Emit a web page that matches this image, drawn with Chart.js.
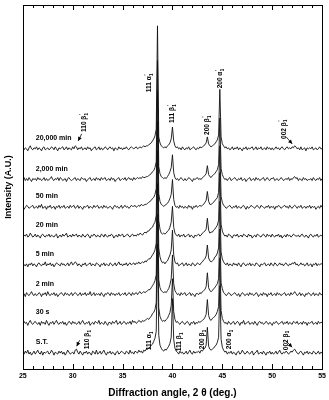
<!DOCTYPE html>
<html>
<head>
<meta charset="utf-8">
<script src="https://cdn.jsdelivr.net/npm/chart.js@4.4.1/dist/chart.umd.min.js"></script>
<style>
  html, body { margin: 0; padding: 0; background: #fff; }
</style>
</head>
<body>
<canvas id="xrdChart" width="329" height="400"></canvas>
<script>
// 2 theta sampling (deg.)
const angles = [
  25,25.125,25.25,25.375,25.5,25.625,25.75,25.875,26,26.125,
  26.25,26.375,26.5,26.625,26.75,26.875,27,27.125,27.25,27.375,
  27.5,27.625,27.75,27.875,28,28.125,28.25,28.375,28.5,28.625,
  28.75,28.875,29,29.125,29.25,29.375,29.5,29.625,29.75,29.875,
  30,30.125,30.25,30.375,30.5,30.625,30.75,30.875,31,31.125,
  31.25,31.375,31.5,31.625,31.75,31.875,32,32.125,32.25,32.375,
  32.5,32.625,32.75,32.875,33,33.125,33.25,33.375,33.5,33.625,
  33.75,33.875,34,34.125,34.25,34.375,34.5,34.625,34.75,34.875,
  35,35.125,35.25,35.375,35.5,35.625,35.75,35.875,36,36.125,
  36.25,36.375,36.5,36.625,36.75,36.875,37,37.125,37.25,37.375,
  37.5,37.625,37.75,37.875,38,38.125,38.25,38.375,38.5,38.625,
  38.75,38.875,39,39.125,39.25,39.375,39.5,39.625,39.75,39.875,
  40,40.125,40.25,40.375,40.5,40.625,40.75,40.875,41,41.125,
  41.25,41.375,41.5,41.625,41.75,41.875,42,42.125,42.25,42.375,
  42.5,42.625,42.75,42.875,43,43.125,43.25,43.375,43.5,43.625,
  43.75,43.875,44,44.125,44.25,44.375,44.5,44.625,44.75,44.875,
  45,45.125,45.25,45.375,45.5,45.625,45.75,45.875,46,46.125,
  46.25,46.375,46.5,46.625,46.75,46.875,47,47.125,47.25,47.375,
  47.5,47.625,47.75,47.875,48,48.125,48.25,48.375,48.5,48.625,
  48.75,48.875,49,49.125,49.25,49.375,49.5,49.625,49.75,49.875,
  50,50.125,50.25,50.375,50.5,50.625,50.75,50.875,51,51.125,
  51.25,51.375,51.5,51.625,51.75,51.875,52,52.125,52.25,52.375,
  52.5,52.625,52.75,52.875,53,53.125,53.25,53.375,53.5,53.625,
  53.75,53.875,54,54.125,54.25,54.375,54.5,54.625,54.75,54.875,
  55
];

// ageing times, bottom to top
const sampleLabels = ["S.T.", "30 s", "2 min", "5 min", "20 min", "50 min", "2,000 min", "20,000 min"];
// vertical shift of each pattern (A.U.)
const offsets = [16, 46, 75, 105, 134, 163, 191, 222];

const intST = [
  1,-1,2,0,3,-1,1,-2,0,2,  -1,1,3,0,-1,2,-2,1,0,1,  2,-1,0,3,1,-2,1,0,-1,2,
  0,2,-1,1,-2,0,3,1,-1,0,  1,-1,3,4,1,-1,2,0,-2,1,  0,2,-1,1,0,-2,2,1,-1,3,
  -1,0,2,-1,1,3,0,-2,1,0,  2,-1,1,0,-2,1,2,-1,0,2,  1,0,-1,2,1,-1,3,0,1,-1,
  2,1,0,3,1,2,0,3,2,4,  4,5,6,8,9,12,15,22,110,18,  8,5,3,2,4,3,5,7,10,16,
  55,14,5,2,1,-1,2,0,1,-1,  0,2,-1,1,3,0,-1,2,0,1,  1,2,0,3,2,4,5,8,26,7,
  4,3,4,5,7,8,11,16,68,14,  6,3,1,2,-1,1,0,2,-1,1,  0,-2,1,2,-1,0,3,1,-1,0,
  2,0,-1,1,2,-2,0,1,3,-1,  0,1,-1,2,0,-2,1,0,2,-1,  1,-1,0,2,-1,1,3,0,-1,1,
  0,2,1,-1,0,2,1,3,4,2,  0,-1,1,2,0,-2,1,0,2,-1,  1,0,-1,2,1,-1,0,2,-1,1,  0
];
const int30s = [
  -1,2,0,1,-2,1,3,0,-1,1,  2,0,-1,1,-2,2,0,1,-1,3,  0,-2,1,0,2,-1,1,3,0,-1,
  1,0,2,-1,1,-2,0,2,1,-1,  2,0,1,-1,0,2,-1,1,3,0,  -1,1,0,2,-2,0,1,-1,2,1,
  0,3,-1,1,0,-1,2,0,-2,1,  1,-1,2,0,1,3,-1,0,2,-1,  0,2,1,-1,1,0,2,-1,3,1,
  2,0,1,3,2,1,3,2,3,4,  5,4,6,7,10,11,14,21,110,16,  7,4,2,3,2,4,5,8,11,18,
  45,12,4,1,2,0,-1,1,2,0,  -1,1,2,0,-2,1,0,2,-1,1,  0,2,1,2,3,4,6,9,24,8,
  4,3,5,6,7,9,12,17,66,13,  5,2,0,1,-1,2,0,-1,1,2,  -1,0,2,1,-2,1,0,3,-1,0,
  1,2,-1,0,1,-1,2,0,-2,1,  2,0,1,-1,0,2,1,-1,1,0,  -2,1,0,2,1,-1,0,1,2,-1,
  1,0,2,-1,1,0,-1,2,1,0,  2,-1,0,1,-1,2,0,1,-2,1,  0,1,2,-1,0,1,-1,2,0,1,  1
];
const int2min = [
  0,1,-2,2,0,-1,1,3,0,-1,  1,-1,0,2,1,-2,1,0,2,-1,  3,0,-1,1,0,2,-1,1,-2,0,
  1,2,0,-1,2,0,1,-1,0,2,  -1,1,2,1,-1,0,2,-1,1,0,  2,-1,1,0,3,-1,0,2,-1,1,
  0,1,-1,2,0,-2,1,0,2,1,  -1,2,0,1,-1,1,0,2,-1,0,  1,0,2,-1,0,2,1,-1,2,0,
  1,2,0,2,3,1,2,3,2,3,  4,5,5,7,9,11,14,20,112,15,  7,4,3,2,3,2,4,6,10,16,
  40,11,4,2,0,1,-1,2,0,1,  2,-1,0,1,2,-1,1,0,-2,1,  1,0,2,1,3,4,5,8,22,7,
  4,3,4,6,7,9,11,16,66,12,  6,2,1,-1,0,2,1,-1,0,1,  2,0,-1,1,-2,0,2,1,-1,0,
  1,-1,2,0,1,-1,0,2,1,-2,  0,1,-1,2,0,1,-2,1,0,2,  -1,0,1,-1,2,0,1,-1,0,1,
  2,-1,0,1,-1,2,0,1,3,1,  -1,0,2,-1,1,0,-2,1,0,2,  1,-1,0,2,-1,1,0,-1,2,0,  0
];
const int5min = [
  2,0,-1,1,-2,1,0,2,-1,1,  0,-2,1,2,0,-1,1,0,3,-1,  1,0,2,-1,1,-2,0,2,1,0,
  -1,2,0,1,-1,0,2,-1,1,3,  0,1,3,2,-1,1,0,-2,1,0,  2,-1,0,1,2,-1,1,0,-1,2,
  1,0,-2,1,0,2,-1,1,0,-1,  2,1,-1,0,2,-1,1,3,0,1,  -1,1,0,2,-1,1,2,0,1,2,
  0,2,1,3,1,2,3,2,4,3,  5,6,6,8,10,12,15,22,115,17,  8,4,2,3,1,3,4,7,10,15,
  35,10,3,1,2,-1,0,1,2,-1,  0,2,-1,1,0,-1,2,1,-1,0,  2,1,0,2,3,5,6,9,20,7,
  4,3,4,5,8,9,12,17,64,13,  6,3,1,0,2,-1,1,0,-1,2,  0,1,-1,2,0,-2,1,2,0,-1,
  1,0,2,-1,1,0,-1,2,1,0,  -2,1,0,1,2,-1,0,1,-1,2,  0,-1,2,1,-1,0,2,0,1,-1,
  1,2,0,-1,1,0,2,1,3,0,  1,-1,0,2,0,1,-1,0,2,-1,  0,1,-2,1,0,2,-1,1,0,1,  1
];
const int20min = [
  -1,1,0,2,-1,0,3,1,-1,0,  2,-1,1,0,-2,1,2,0,-1,1,  0,2,-1,1,0,-1,1,2,-2,0,
  1,-1,2,0,1,3,-1,0,1,-1,  2,0,1,2,-1,1,0,-1,2,0,  -1,1,2,0,-2,1,0,2,1,-1,
  1,0,-1,2,1,-1,2,0,-1,1,  0,2,1,-2,0,1,-1,2,0,1,  2,-1,0,1,2,0,-1,1,2,0,
  1,0,2,1,3,2,1,3,4,3,  5,5,7,8,9,12,14,21,116,16,  7,3,2,3,2,3,5,6,9,14,
  30,9,3,1,0,2,-1,1,0,2,  -1,0,1,2,-1,1,0,-2,1,0,  1,2,0,1,3,4,5,7,18,6,
  3,4,4,6,7,9,11,16,64,12,  5,2,0,1,-1,2,1,0,-2,1,  1,0,2,-1,0,1,-1,2,1,0,
  -1,2,0,1,-2,0,1,-1,2,1,  0,-1,1,2,0,-1,2,0,1,-1,  2,0,-1,1,0,2,-1,1,-2,0,
  1,-1,2,0,1,-1,0,2,1,0,  0,1,-1,1,2,0,-1,1,0,-2,  1,2,0,-1,1,0,2,-1,0,1,  0
];
const int50min = [
  1,-2,0,2,1,-1,0,1,2,-1,  0,1,-1,2,0,3,-1,0,1,-2,  1,0,2,-1,0,1,-2,1,0,2,
  -1,1,0,2,-1,0,1,-1,2,0,  1,2,-1,0,2,-1,1,0,-2,1,  0,1,2,-1,1,0,-1,2,0,1,
  2,-1,0,1,-1,2,0,1,-1,0,  1,0,-2,1,2,0,1,-1,0,2,  -1,1,2,0,1,-1,0,2,1,1,
  2,0,1,2,1,3,2,2,3,3,  4,5,6,7,9,10,13,19,118,14,  6,3,2,1,2,3,4,6,9,13,
  28,8,2,0,1,-1,2,0,1,-1,  1,0,-1,2,0,1,-2,1,0,2,  0,1,2,1,2,3,5,7,16,6,
  3,3,4,5,7,8,10,15,62,11,  5,2,1,-1,0,1,2,0,-1,1,  0,2,-1,1,0,-1,1,2,0,-2,
  1,-1,0,2,1,0,-1,1,2,0,  -1,2,1,0,-1,1,0,2,-1,1,  0,1,-2,1,0,2,1,-1,0,1,
  2,0,1,-1,2,0,-1,1,2,1,  -1,1,0,2,-1,0,1,-1,1,0,  2,-1,1,0,1,-2,0,1,-1,2,  0
];
const int2000min = [
  0,2,-1,1,-1,2,0,-2,1,0,  1,-1,2,0,1,-1,0,2,-1,1,  -1,0,1,3,0,-1,1,0,2,-1,
  2,1,-1,0,1,-2,1,2,0,-1,  0,1,2,-1,1,0,-1,2,1,0,  1,-2,0,1,2,-1,0,1,-1,2,
  0,1,-1,2,0,1,2,-1,0,1,  -1,2,0,1,-2,0,1,2,-1,0,  1,0,2,-1,1,2,0,1,-1,2,
  0,1,2,1,2,1,3,2,2,3,  3,4,5,6,8,9,12,18,120,13,  6,3,2,1,2,1,3,5,8,12,
  25,7,2,0,1,-1,1,2,0,-1,  1,-1,0,2,1,0,-2,1,0,1,  2,0,1,0,2,3,4,6,14,5,
  3,2,4,5,6,8,10,15,62,11,  5,2,0,1,-1,1,2,-1,0,1,  2,0,-1,1,0,2,-1,0,1,-2,
  0,1,2,-1,0,1,-1,2,0,1,  -1,0,1,2,-1,0,2,0,-1,1,  1,2,-1,0,1,-1,0,2,1,-1,
  0,1,0,2,-1,1,0,2,3,1,  2,-1,1,0,-1,2,0,1,-1,0,  0,1,-1,2,0,-1,1,0,2,-1,  1
];
const int20000min = [
  2,-1,1,0,-2,1,3,0,-1,1,  0,2,-1,1,0,-2,1,2,-1,0,  1,-1,0,2,1,-1,2,0,-2,1,
  0,1,2,-1,0,2,-1,1,0,-1,  2,0,3,2,-1,1,0,2,-1,0,  1,-1,2,0,1,-2,0,1,2,-1,
  0,2,-1,1,-1,0,2,1,-1,1,  2,0,1,-2,1,0,-1,2,0,1,  -1,1,0,2,0,-1,1,2,1,0,
  1,2,0,1,2,1,2,3,2,3,  3,4,5,6,8,10,13,20,124,12,  6,3,2,1,2,1,3,4,6,10,
  22,8,3,1,2,0,1,-1,2,0,  -1,1,0,2,-1,0,1,2,0,-1,  1,0,2,1,2,3,4,6,12,5,
  3,2,3,4,5,7,9,14,60,12,  5,3,1,2,0,1,-1,0,2,-1,  1,0,2,-1,1,0,-2,1,0,2,
  -1,1,0,1,2,-1,0,2,-1,1,  0,2,-1,0,1,-1,2,0,1,-1,  1,-1,0,2,0,1,-1,1,2,0,
  -1,1,2,0,1,0,2,1,3,2,  0,1,-1,2,-1,0,1,-2,1,0,  1,0,2,-1,0,1,-1,0,2,0,  0
];
const intensities = [intST, int30s, int2min, int5min, int20min, int50min, int2000min, int20000min];

// reflection labels
const peakNames = ["110 β", "111 α", "111 β", "200 β", "200 α", "002 β"];
const topLabelAngles = [31.2, 37.7, 40.0, 43.5, 44.8, 51.2];
const topLabelLevels = [239, 279, 248, 236, 283, 232];
const bottomLabelAngles = [31.5, 37.7, 40.7, 43.0, 45.7, 51.4];
const bottomLabelLevels = [20, 19, 18, 20, 20, 19];
// arrows: [tailAngle, tailLevel, tipAngle, tipLevel]
const arrows = [
  [30.9, 237, 30.55, 230],
  [51.4, 234, 52.0, 227],
  [30.7, 29, 30.4, 23],
  [51.4, 28, 52.0, 22]
];

const FONT = '"Liberation Sans", Arial, Helvetica, sans-serif';

function drawPeakLabel(ctx, px, py, name, prime) {
  ctx.save();
  ctx.translate(px, py);
  ctx.rotate(-Math.PI / 2);
  ctx.textAlign = 'left';
  ctx.textBaseline = 'middle';
  ctx.font = 'bold 6.5px ' + FONT;
  ctx.fillText(name, 0, 0);
  const w = ctx.measureText(name).width;
  ctx.font = 'bold 4.5px ' + FONT;
  ctx.fillText('1', w + 0.3, 2);
  if (prime) ctx.fillText("'", w + 0.8, -3);
  ctx.restore();
}

function drawArrow(ctx, x1, y1, x2, y2) {
  const ang = Math.atan2(y2 - y1, x2 - x1);
  ctx.beginPath();
  ctx.moveTo(x1, y1);
  ctx.lineTo(x2, y2);
  ctx.stroke();
  ctx.beginPath();
  ctx.moveTo(x2, y2);
  ctx.lineTo(x2 - 4 * Math.cos(ang) + 2 * Math.sin(ang), y2 - 4 * Math.sin(ang) - 2 * Math.cos(ang));
  ctx.lineTo(x2 - 4 * Math.cos(ang) - 2 * Math.sin(ang), y2 - 4 * Math.sin(ang) + 2 * Math.cos(ang));
  ctx.closePath();
  ctx.fill();
}

const frameAndNotes = {
  id: 'frameAndNotes',
  afterDatasetsDraw(chart) {
    const { ctx, chartArea: a, scales: { x, y } } = chart;
    ctx.save();
    ctx.strokeStyle = '#000';
    ctx.fillStyle = '#000';
    ctx.lineWidth = 1;
    ctx.strokeRect(Math.round(a.left) + 0.5, Math.round(a.top) + 0.5,
      Math.round(a.right - a.left), Math.round(a.bottom - a.top));

    // inward ticks top and bottom
    for (let v = 25; v <= 55; v++) {
      const px = Math.round(x.getPixelForValue(v)) + 0.5;
      const len = v % 5 === 0 ? 5 : 3;
      ctx.beginPath();
      ctx.moveTo(px, a.top);
      ctx.lineTo(px, a.top + len);
      ctx.moveTo(px, a.bottom);
      ctx.lineTo(px, a.bottom - len);
      ctx.stroke();
    }

    // pattern names
    ctx.font = 'bold 7px ' + FONT;
    ctx.textAlign = 'left';
    ctx.textBaseline = 'middle';
    sampleLabels.forEach((s, k) => {
      ctx.fillText(s, x.getPixelForValue(26.3), y.getPixelForValue(offsets[k] + 11));
    });

    // reflections
    peakNames.forEach((n, i) => {
      drawPeakLabel(ctx, x.getPixelForValue(topLabelAngles[i]), y.getPixelForValue(topLabelLevels[i]), n, true);
      drawPeakLabel(ctx, x.getPixelForValue(bottomLabelAngles[i]), y.getPixelForValue(bottomLabelLevels[i]), n, false);
    });

    ctx.lineWidth = 0.8;
    arrows.forEach(r => drawArrow(ctx,
      x.getPixelForValue(r[0]), y.getPixelForValue(r[1]),
      x.getPixelForValue(r[2]), y.getPixelForValue(r[3])));
    ctx.restore();
  }
};

const datasets = intensities.map((vals, k) => ({
  label: sampleLabels[k],
  data: angles.map((a, i) => ({ x: a, y: vals[i] + offsets[k] })),
  borderColor: '#111',
  borderWidth: 0.9,
  pointRadius: 0,
  tension: 0,
  fill: false
}));

new Chart(document.getElementById('xrdChart').getContext('2d'), {
  type: 'line',
  data: { datasets: datasets },
  options: {
    responsive: false,
    animation: false,
    devicePixelRatio: 1,
    layout: { padding: { left: 0, right: 6, top: 5, bottom: 0 } },
    plugins: { legend: { display: false }, tooltip: { enabled: false } },
    scales: {
      x: {
        type: 'linear',
        min: 25,
        max: 55,
        ticks: { stepSize: 5, color: '#000', padding: 3, maxRotation: 0, font: { family: FONT, size: 7, weight: 'bold' } },
        grid: { display: false, drawTicks: false },
        border: { display: false },
        title: {
          display: true,
          text: 'Diffraction angle, 2 θ (deg.)',
          color: '#000',
          font: { family: FONT, size: 10, weight: 'bold' },
          padding: { top: 3.6, bottom: 1 }
        }
      },
      y: {
        min: 0,
        max: 367,
        ticks: { display: false },
        grid: { display: false, drawTicks: false },
        border: { display: false },
        title: {
          display: true,
          text: 'Intensity (A.U.)',
          color: '#000',
          font: { family: FONT, size: 9, weight: 'bold' },
          padding: { top: 3, bottom: 9 }
        }
      }
    }
  },
  plugins: [frameAndNotes]
});
</script>
</body>
</html>
